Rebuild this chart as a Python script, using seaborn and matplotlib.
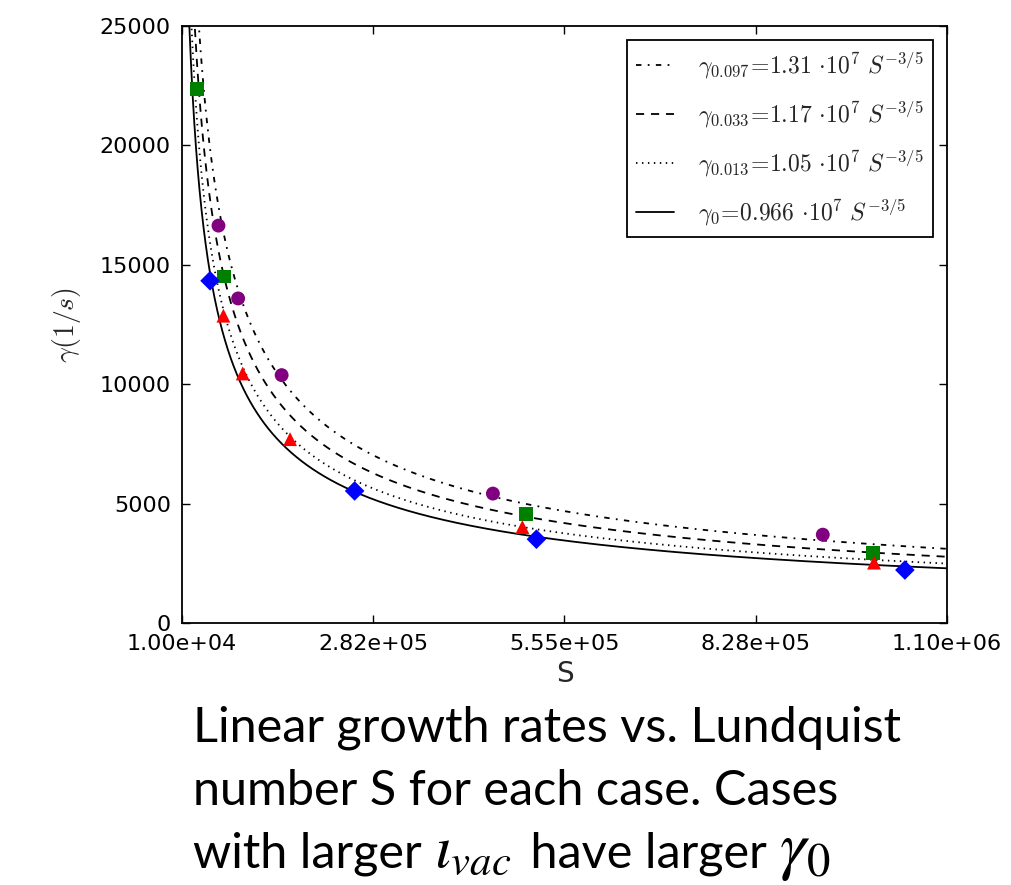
import numpy as np
import pandas as pd
import matplotlib
matplotlib.use("Agg")
import matplotlib.pyplot as plt
import seaborn as sns

# ---------------- data ----------------
# fit coefficients (gamma = C * 1e7 * S^(-3/5))
fit_names = ["0.097", "0.033", "0.013", "0"]
fit_coefs = [1.31, 1.17, 1.05, 0.966]
fit_exponent = -3.0 / 5.0

# measured growth rates per case
green_S = [3.2e4, 7.0e4, 5.0e5, 9.95e5]
green_g = [22370, 14510, 4560, 2920]
blue_S = [5.0e4, 2.56e5, 5.15e5, 1.04e6]
blue_g = [14330, 5530, 3510, 2220]
red_S = [6.9e4, 9.65e4, 1.64e5, 4.95e5, 9.96e5]
red_g = [12870, 10450, 7700, 4020, 2530]
purple_S = [6.2e4, 9.0e4, 1.52e5, 4.53e5, 9.23e5]
purple_g = [16640, 13590, 10380, 5420, 3700]

x_ticks = np.linspace(1.0e4, 1.1e6, 5)
y_ticks = [0, 5000, 10000, 15000, 20000, 25000]

caption_line1 = "Linear growth rates vs. Lundquist"
caption_line2 = "number S for each case. Cases"
caption_line3_parts = ["with larger ", r"$\iota_{vac}$", " have larger ", r"$\gamma_0$"]

# ---------------- style ----------------
sns.set_style("ticks")
plt.rcParams["font.family"] = ["DejaVu Sans"]
plt.rcParams["mathtext.fontset"] = "cm"
plt.rcParams["xtick.direction"] = "in"
plt.rcParams["ytick.direction"] = "in"
plt.rcParams["xtick.top"] = True
plt.rcParams["ytick.right"] = True

fig = plt.figure(figsize=(10.11, 8.85), dpi=100)
ax = fig.add_axes([0.18, 0.296, 0.7567, 0.6747])

# fit curves
S_curve = np.linspace(1.0e4, 1.1e6, 3000)
frames = []
for name, c in zip(fit_names, fit_coefs):
    frames.append(pd.DataFrame({"S": S_curve,
                                "gamma": c * 1e7 * S_curve ** fit_exponent,
                                "fit": name}))
curves = pd.concat(frames, ignore_index=True)
dash_map = {"0.097": (3, 3.5, 1, 3.5), "0.033": (4.5, 3.8), "0.013": (0.8, 2.5), "0": ""}
sns.lineplot(data=curves, x="S", y="gamma", style="fit", dashes=dash_map,
             color="black", linewidth=1.3, ax=ax, legend=False, sort=False,
             estimator=None)

# data points
pts = pd.concat([
    pd.DataFrame({"S": green_S, "gamma": green_g, "case": "green"}),
    pd.DataFrame({"S": blue_S, "gamma": blue_g, "case": "blue"}),
    pd.DataFrame({"S": red_S, "gamma": red_g, "case": "red"}),
    pd.DataFrame({"S": purple_S, "gamma": purple_g, "case": "purple"}),
], ignore_index=True)
palette = {"green": "#008000", "blue": "#0000ff", "red": "#ff0000", "purple": "#800080"}
markers = {"green": "s", "blue": "D", "red": "^", "purple": "o"}
sns.scatterplot(data=pts, x="S", y="gamma", hue="case", style="case",
                palette=palette, markers=markers, s=100, linewidth=0,
                ax=ax, legend=False, zorder=5)

# legend
labels = [
    r"$\gamma_{0.097}\!=\!1.31\,\cdot\!10^7\ S^{-3/5}$",
    r"$\gamma_{0.033}\!=\!1.17\,\cdot\!10^7\ S^{-3/5}$",
    r"$\gamma_{0.013}\!=\!1.05\,\cdot\!10^7\ S^{-3/5}$",
    r"$\gamma_0\!=\!0.966\,\cdot\!10^7\ S^{-3/5}$",
]
handles = ax.get_lines()[:4]
leg = ax.legend(handles, labels, loc="upper right", fontsize=17,
                frameon=True, fancybox=False, framealpha=1,
                edgecolor="black", handlelength=1.6, labelspacing=0.75,
                borderaxespad=0.6, borderpad=0.4, handletextpad=1.0)
leg.get_frame().set_linewidth(1.3)

ax.set_xlim(1.0e4, 1.1e6)
ax.set_ylim(0, 25000)
ax.set_xticks(x_ticks)
ax.set_xticklabels([f"{v:.2e}" for v in x_ticks])
ax.set_yticks(y_ticks)
ax.set_yticklabels([str(v) for v in y_ticks])
ax.tick_params(axis="both", labelsize=16, length=6, width=1, pad=8,
               colors="black")
for sp in ax.spines.values():
    sp.set_linewidth(1.3)
    sp.set_color("black")
ax.set_xlabel("S", fontsize=20, labelpad=4)
ax.set_ylabel(r"$\gamma(1/s)$", fontsize=20, labelpad=12)

# caption
cap_kw = dict(fontsize=35, family=["Lato", "DejaVu Sans"], ha="left",
              va="baseline", color="black")
fig.text(193 / 1011, 1 - 742 / 885, caption_line1, **cap_kw)
fig.text(193 / 1011, 1 - 805 / 885, caption_line2, **cap_kw)

renderer = fig.canvas.get_renderer()
x_px = 193.0
y_base = 1 - 867 / 885
math_sizes = [None, 44, None, 48]
for part, msize in zip(caption_line3_parts, math_sizes):
    kw = dict(cap_kw)
    if msize:
        kw["fontsize"] = msize
    t = fig.text(x_px / 1011, y_base, part, **kw)
    if msize:
        t.get_fontproperties().set_math_fontfamily("stix")
    bb = t.get_window_extent(renderer=renderer)
    x_px = bb.x1 + (6 if msize else 0)

fig.savefig("out.png", dpi=100)
